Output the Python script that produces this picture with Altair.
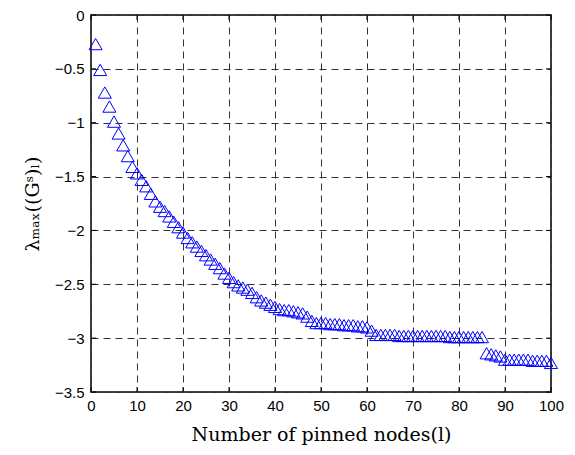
import altair as alt
import pandas as pd

nodes = list(range(1, 101))
lam = [
    -0.27, -0.51, -0.72, -0.85, -0.99, -1.10, -1.21, -1.31, -1.41, -1.47,
    -1.53, -1.59, -1.66, -1.73, -1.78, -1.82, -1.87, -1.92, -1.97, -2.02,
    -2.07, -2.11, -2.15, -2.19, -2.23, -2.27, -2.31, -2.35, -2.40, -2.44,
    -2.48, -2.51, -2.53, -2.55, -2.58, -2.62, -2.65, -2.67, -2.69, -2.71,
    -2.73, -2.74, -2.74, -2.75, -2.76, -2.77, -2.80, -2.84, -2.86, -2.86,
    -2.86, -2.87, -2.87, -2.87, -2.88, -2.88, -2.88, -2.89, -2.89, -2.90,
    -2.93, -2.97, -2.97, -2.97, -2.97, -2.97, -2.98, -2.98, -2.98, -2.98,
    -2.98, -2.98, -2.98, -2.98, -2.98, -2.98, -2.98, -2.99, -2.99, -2.99,
    -2.99, -2.99, -2.99, -2.99, -2.99, -3.14, -3.15, -3.16, -3.17, -3.20,
    -3.20, -3.20, -3.20, -3.20, -3.20, -3.21, -3.21, -3.21, -3.21, -3.23,
]
x_ticks = [0, 10, 20, 30, 40, 50, 60, 70, 80, 90, 100]
y_ticks = [0, -0.5, -1, -1.5, -2, -2.5, -3, -3.5]

W, H = 460, 377

df = pd.DataFrame({"n": nodes, "v": lam})
xt = pd.DataFrame({"n": x_ticks})
yt = pd.DataFrame({"v": y_ticks})

xscale = alt.Scale(domain=[0, 100], nice=False)
yscale = alt.Scale(domain=[-3.5, 0], nice=False)

x_axis = alt.Axis(
    values=x_ticks, title="Number of pinned nodes(l)", grid=True,
    gridDash=[7, 5], gridColor="#333333", gridWidth=1, ticks=False, domain=False,
    labelFlush=False, labelOverlap=False,
    labelFont="Liberation Sans", labelFontSize=15, labelColor="black", labelPadding=6,
    titleFont="DejaVu Serif", titleFontSize=19, titleFontWeight="normal",
    titleColor="black", titlePadding=12,
)
y_axis = alt.Axis(
    values=y_ticks, title="λₘₐₓ((Gˢ)ₗ)", format="~g", grid=True,
    gridDash=[7, 5], gridColor="#333333", gridWidth=1, ticks=False, domain=False,
    labelFlush=False, labelOverlap=False,
    labelFont="Liberation Sans", labelFontSize=15, labelColor="black", labelPadding=7,
    titleFont="DejaVu Serif", titleFontSize=19, titleFontWeight="normal",
    titleColor="black", titlePadding=12,
)

points = alt.Chart(df).mark_point(
    shape="triangle-up", size=170, filled=False, color="#0000ff", strokeWidth=1, opacity=1
).encode(
    x=alt.X("n:Q", scale=xscale, axis=x_axis),
    y=alt.Y("v:Q", scale=yscale, axis=y_axis),
)

bottom_ticks = alt.Chart(xt).mark_rule(color="black", strokeWidth=1).encode(
    x=alt.X("n:Q", scale=xscale, axis=x_axis), y=alt.value(H), y2=alt.value(H - 5))
top_ticks = alt.Chart(xt).mark_rule(color="black", strokeWidth=1).encode(
    x=alt.X("n:Q", scale=xscale, axis=x_axis), y=alt.value(0), y2=alt.value(5))
left_ticks = alt.Chart(yt).mark_rule(color="black", strokeWidth=1).encode(
    y=alt.Y("v:Q", scale=yscale, axis=y_axis), x=alt.value(0), x2=alt.value(5))
right_ticks = alt.Chart(yt).mark_rule(color="black", strokeWidth=1).encode(
    y=alt.Y("v:Q", scale=yscale, axis=y_axis), x=alt.value(W), x2=alt.value(W - 5))

chart = alt.layer(points, bottom_ticks, top_ticks, left_ticks, right_ticks).properties(
    width=W, height=H,
    autosize=alt.AutoSizeParams(type="none"),
    padding={"left": 83, "top": 7, "right": 16, "bottom": 55},
    background="white",
).configure_view(stroke="black", strokeWidth=1.5)

chart.save("out.html", embed_options={"renderer": "svg", "actions": False})
